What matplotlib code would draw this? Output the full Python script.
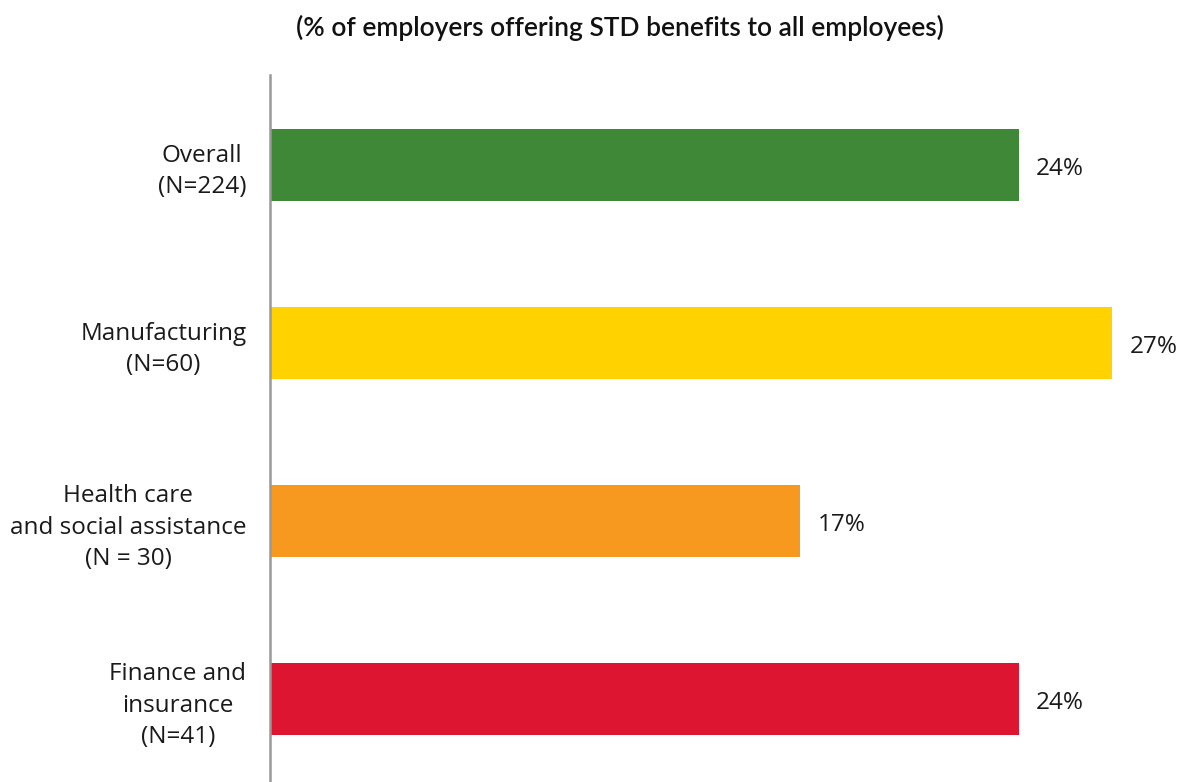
import matplotlib
matplotlib.use("Agg")
from matplotlib import pyplot as plt

# survey groups and share of employers offering STD benefits to all employees
groups = ["Overall\n(N=224)", "Manufacturing\n(N=60)",
          "Health care\nand social assistance\n(N = 30)",
          "Finance and\ninsurance\n(N=41)"]
shares = [24, 27, 17, 24]
bar_colors = ["#3f8837", "#ffd200", "#f7981f", "#dd1530"]

plt.rcParams["font.family"] = ["Open Sans", "DejaVu Sans"]

fig = plt.figure(figsize=(11.8, 7.82), dpi=100)
ax = fig.add_axes([270 / 1180, 0, 910 / 1180, 707 / 782])

pos = list(range(len(groups)))
ax.barh(pos, shares, height=0.405, color=bar_colors)

for p, v in zip(pos, shares):
    ax.text(v + 0.55, p + 0.02, f"{v}%", va="center", ha="left", fontsize=17.5,
            color="#1a1a1a")

ax.set_xlim(0, 910 / 31.2)
ax.set_ylim(3.466, -0.506)
ax.set_yticks(pos)
ax.set_yticklabels(groups, fontsize=17.5, color="#1a1a1a", multialignment="center",
                   linespacing=1.4)
ax.tick_params(axis="y", length=0, pad=17)
ax.set_xticks([])

for side in ["top", "right", "bottom"]:
    ax.spines[side].set_visible(False)
ax.spines["left"].set_color("#999999")
ax.spines["left"].set_linewidth(1.8)

fig.text(620 / 1180, 1 - 28 / 782, "(% of employers offering STD benefits to all employees)",
         ha="center", va="center", fontsize=19, fontweight="semibold", color="#111111",
         family=["Lato", "DejaVu Sans"])

fig.savefig("out.png", dpi=100)
